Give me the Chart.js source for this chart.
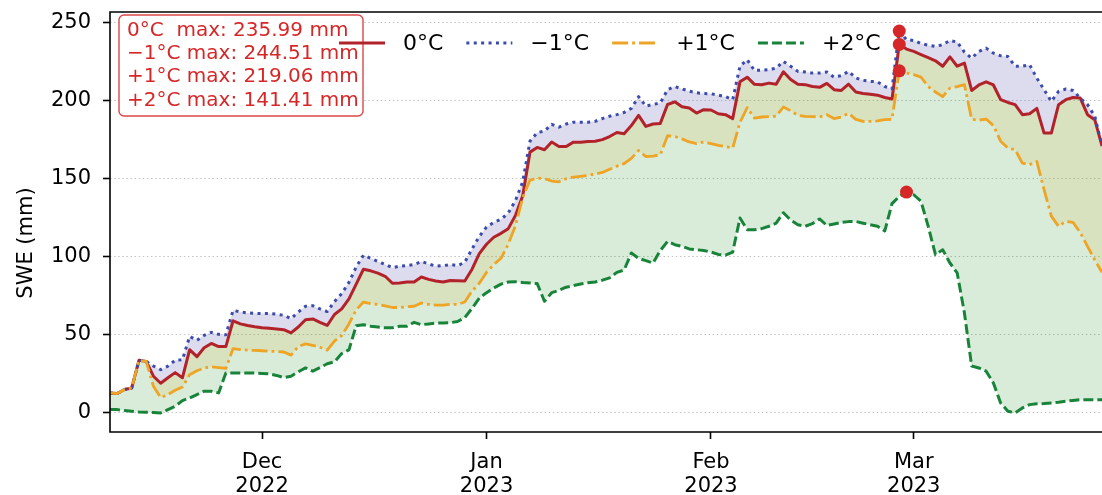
<!DOCTYPE html>
<html>
<head>
<meta charset="utf-8">
<title>SWE scenarios</title>
<script src="https://cdn.jsdelivr.net/npm/chart.js@4.4.1/dist/chart.umd.min.js"></script>
<style>
  html, body { margin: 0; padding: 0; background: #ffffff; overflow: hidden; }
  #wrap { position: relative; width: 1102px; height: 495px; }
  canvas { display: block; }
</style>
</head>
<body>
<div id="wrap"><canvas id="swe" width="1102" height="495"></canvas></div>
<script>
// Daily snow water equivalent (mm), one value per day starting at START_DATE.
const START_DATE = '2022-11-10';

const swe0 = [
  12.8, 12.4, 15.0, 16.0, 33.7, 33.0, 23.5, 19.0, 22.5, 25.8,
  22.5, 40.5, 36.0, 41.7, 44.5, 42.5, 42.5, 59.0, 57.0, 56.0,
  55.2, 54.6, 54.2, 53.8, 53.3, 51.2, 55.0, 59.7, 60.2, 58.0,
  56.0, 63.0, 66.6, 73.0, 82.5, 92.0, 91.0, 89.5, 87.5, 83.0,
  83.2, 83.8, 83.8, 87.0, 85.5, 84.5, 83.8, 84.8, 84.7, 84.5,
  92.0, 102.0, 108.0, 112.5, 115.0, 118.0, 126.5, 139.0, 167.0, 170.0,
  168.5, 173.5, 170.6, 170.6, 173.4, 173.4, 173.8, 174.0, 175.0, 177.0,
  179.6, 178.8, 184.0, 190.5, 183.5, 185.0, 185.4, 197.5, 199.2, 196.0,
  195.2, 192.0, 194.2, 194.0, 191.6, 191.0, 188.5, 212.0, 215.0, 210.4,
  210.2, 211.2, 210.5, 218.5, 213.5, 210.4, 210.2, 209.0, 208.5, 211.0,
  207.0, 206.5, 210.5, 205.5, 204.5, 204.0, 203.5, 202.0, 201.0, 235.99,
  233.0, 231.5, 229.5, 227.5, 225.5, 222.0, 228.0, 222.0, 224.0, 206.5,
  210.0, 212.0, 210.0, 200.6, 198.8, 197.4, 191.0, 191.6, 195.0, 179.2,
  179.2, 197.4, 200.6, 202.0, 201.6, 191.0, 187.8, 171.0
];

const sweMinus1 = [
  12.8, 12.4, 15.0, 16.0, 33.7, 33.0, 30.0, 27.7, 29.9, 33.7,
  34.0, 49.0, 46.5, 49.7, 51.6, 50.3, 50.0, 65.7, 64.6, 64.0,
  63.8, 63.6, 63.6, 63.2, 62.5, 60.4, 64.6, 68.3, 68.7, 66.6,
  64.9, 71.3, 76.4, 83.6, 93.5, 101.0, 99.0, 97.0, 95.0, 93.0,
  94.0, 94.3, 95.0, 97.0, 95.4, 94.0, 94.3, 95.0, 94.3, 96.5,
  105.0, 113.0, 119.0, 122.0, 124.0, 128.0, 136.0, 148.0, 174.0, 179.5,
  180.5, 184.8, 183.0, 185.0, 186.2, 186.2, 186.2, 186.7, 188.5, 190.0,
  191.0, 192.4, 195.0, 202.5, 196.5, 197.5, 198.5, 207.0, 209.0, 207.5,
  206.0, 205.0, 204.5, 204.4, 203.5, 202.5, 200.6, 222.0, 226.2, 219.3,
  219.5, 219.8, 220.8, 225.1, 222.0, 218.7, 218.3, 217.6, 217.6, 218.3,
  215.0, 216.0, 218.7, 214.5, 213.0, 212.3, 212.0, 209.0, 207.5, 244.51,
  239.0, 238.5, 236.5, 235.5, 234.7, 235.8, 238.5, 237.5, 231.0, 227.2,
  231.5, 233.6, 230.4, 228.7, 228.3, 222.0, 222.0, 223.0, 214.4, 207.0,
  199.5, 205.9, 207.4, 206.5, 201.6, 197.4, 190.0, 171.0
];

const swePlus1 = [
  12.8, 12.4, 15.0, 16.0, 33.7, 33.0, 17.0, 9.8, 11.7, 14.5,
  16.6, 24.5, 27.0, 28.8, 29.5, 29.0, 28.5, 41.2, 40.5, 40.2,
  40.0, 39.8, 39.5, 39.3, 39.0, 37.0, 42.5, 44.2, 43.3, 42.0,
  40.2, 46.0, 49.5, 57.0, 66.0, 71.0, 70.0, 69.5, 68.5, 67.5,
  67.5, 68.0, 68.3, 70.4, 69.5, 69.0, 69.0, 69.5, 69.5, 71.0,
  78.0, 83.0, 90.0, 95.0, 99.0, 108.0, 120.0, 138.0, 149.0, 150.4,
  150.0, 148.5, 148.0, 150.0, 151.0, 151.5, 152.0, 153.0, 154.0, 156.0,
  158.0, 159.6, 163.0, 168.0, 164.2, 164.5, 165.3, 177.5, 177.0, 175.5,
  173.5, 172.5, 173.5, 172.5, 171.3, 170.5, 169.6, 186.0, 195.5, 188.8,
  189.5, 189.8, 190.0, 195.9, 193.5, 190.5, 189.9, 189.8, 189.5, 191.0,
  188.5, 189.5, 191.8, 188.0, 186.7, 186.7, 187.0, 187.8, 188.0, 219.06,
  217.7, 216.6, 215.0, 209.0, 205.5, 202.5, 208.0, 209.0, 210.2, 188.0,
  187.5, 188.2, 184.0, 174.0, 169.6, 168.6, 160.0, 159.0, 161.0, 143.0,
  126.0, 119.5, 122.7, 122.0, 115.5, 106.7, 98.0, 90.0
];

const swePlus2 = [
  2.1, 2.1, 1.5, 1.0, 0.6, 0.4, 0.2, 0.0, 2.1, 4.3,
  7.9, 9.6, 11.7, 13.9, 13.9, 12.8, 25.6, 25.6, 25.6, 25.5,
  25.5, 25.3, 25.0, 24.0, 22.6, 23.5, 26.3, 28.8, 26.7, 29.0,
  31.5, 32.7, 38.0, 40.4, 55.8, 56.5, 55.5, 55.0, 54.5, 54.5,
  55.5, 55.5, 58.0, 56.5, 57.0, 57.5, 57.6, 57.8, 58.5, 61.0,
  67.0, 73.5, 77.0, 80.0, 82.5, 83.8, 84.0, 83.5, 83.2, 82.8,
  71.5, 77.0, 78.5, 80.5, 81.5, 82.5, 83.3, 83.8, 85.0, 86.5,
  90.0, 91.5, 102.4, 99.0, 97.5, 96.0, 104.0, 109.8, 107.7, 106.7,
  105.0, 104.5, 104.0, 103.0, 101.5, 101.0, 103.0, 124.8, 117.3, 117.3,
  118.0, 119.5, 121.5, 128.2, 123.5, 120.5, 119.5, 121.2, 124.2, 120.0,
  121.0, 122.0, 122.5, 122.6, 121.5, 120.5, 119.5, 116.5, 134.0, 138.6,
  141.41, 139.7, 135.5, 119.5, 101.3, 104.5, 96.0, 89.6, 64.0, 30.0,
  28.8, 26.7, 19.2, 6.4, 1.1, 0.0, 3.2, 5.3, 5.8, 6.0,
  6.4, 6.8, 7.5, 8.0, 8.5, 8.5, 8.5, 8.5
];

const seriesLabels = ['0°C', '−1°C', '+1°C', '+2°C'];
const tickDates = ['2022-12-01', '2023-01-01', '2023-02-01', '2023-03-01'];
const tickLabels = [['Dec', '2022'], ['Jan', '2023'], ['Feb', '2023'], ['Mar', '2023']];
const yTickValues = [0, 50, 100, 150, 200, 250];

// Styling
const FONT = 'DejaVu Sans';
const LINE_COLORS = ['#b2222a', '#3b4bab', '#eea425', '#17843a'];
const MAX_RED = '#d62728';
const FILL_COLD = 'rgba(112,104,186,0.24)';   // between −1°C and 0°C
const FILL_MID = 'rgba(126,160,40,0.30)';     // between 0°C and +1°C
const FILL_WARM = 'rgba(0,128,0,0.15)';       // between +1°C and +2°C

// Date labels for the category axis
const dates = (() => {
  const [y, m, d] = START_DATE.split('-').map(Number);
  return swe0.map((_, i) => new Date(Date.UTC(y, m - 1, d + i)).toISOString().slice(0, 10));
})();

const allSeries = [swe0, sweMinus1, swePlus1, swePlus2];
const maxPoints = allSeries.map(s => {
  const peak = Math.max(...s);
  const i = s.indexOf(peak);
  return { x: dates[i], y: peak };
});

// Frame, legend, max summary box and y label
const decor = {
  id: 'decor',
  afterDatasetsDraw(chart) {
    const { ctx, chartArea: a } = chart;
    ctx.save();
    // axes frame (top, left, bottom)
    ctx.strokeStyle = '#000';
    ctx.lineWidth = 1.6;
    ctx.setLineDash([]);
    ctx.beginPath();
    ctx.moveTo(a.right + 2, a.top);
    ctx.lineTo(a.left, a.top);
    ctx.lineTo(a.left, a.bottom);
    ctx.lineTo(a.right + 2, a.bottom);
    ctx.stroke();

    // summary box of the maxima
    const bx = 119, by = 15, bw = 244, bh = 101, r = 5;
    ctx.beginPath();
    ctx.roundRect(bx, by, bw, bh, r);
    ctx.fillStyle = 'rgba(255,255,255,0.9)';
    ctx.fill();
    ctx.strokeStyle = 'rgba(214,39,40,0.85)';
    ctx.lineWidth = 1.4;
    ctx.stroke();
    ctx.fillStyle = MAX_RED;
    ctx.font = `20px "${FONT}"`;
    ctx.textBaseline = 'middle';
    ctx.textAlign = 'left';
    seriesLabels.forEach((lab, k) => {
      const txt = `${lab.padEnd(4, ' ')} max: ${maxPoints[k].y.toFixed(2)} mm`;
      ctx.fillText(txt, 127, 31 + k * 23.1);
    });

    // legend row
    const ds = chart.data.datasets.slice(0, 4);
    let x = 339;
    const ly = 43, handle = 46, textGap = 18, colGap = 23;
    ctx.font = `22px "${FONT}"`;
    ds.forEach(d => {
      ctx.save();
      ctx.strokeStyle = d.borderColor;
      ctx.lineWidth = d.borderWidth;
      ctx.lineCap = 'butt';
      ctx.setLineDash(d.borderDash || []);
      ctx.beginPath();
      ctx.moveTo(x, ly);
      ctx.lineTo(x + handle, ly);
      ctx.stroke();
      ctx.restore();
      x += handle + textGap;
      ctx.fillStyle = '#000';
      ctx.fillText(d.label, x, ly + 1);
      x += ctx.measureText(d.label).width + colGap;
    });
    ctx.restore();
  },
  afterDraw(chart) {
    const { ctx } = chart;
    ctx.save();
    ctx.translate(27, 243);
    ctx.rotate(-Math.PI / 2);
    ctx.font = `21px "${FONT}"`;
    ctx.fillStyle = '#000';
    ctx.textAlign = 'center';
    ctx.textBaseline = 'middle';
    ctx.fillText('SWE (mm)', 0, 0);
    ctx.restore();
  }
};

const lineBase = { pointRadius: 0, pointHoverRadius: 0, tension: 0, borderCapStyle: 'butt', borderJoinStyle: 'round' };

new Chart(document.getElementById('swe'), {
  type: 'line',
  data: {
    labels: dates,
    datasets: [
      Object.assign({}, lineBase, {
        label: seriesLabels[0], data: swe0, borderColor: LINE_COLORS[0], borderWidth: 3, borderDash: [],
        fill: { target: 2, above: FILL_MID, below: FILL_MID }, order: 4
      }),
      Object.assign({}, lineBase, {
        label: seriesLabels[1], data: sweMinus1, borderColor: LINE_COLORS[1], borderWidth: 3, borderDash: [3, 4.4],
        fill: { target: 0, above: FILL_COLD, below: FILL_COLD }, order: 3
      }),
      Object.assign({}, lineBase, {
        label: seriesLabels[2], data: swePlus1, borderColor: LINE_COLORS[2], borderWidth: 2.8, borderDash: [16, 4, 2.8, 4],
        fill: { target: 3, above: FILL_WARM, below: FILL_WARM }, order: 2
      }),
      Object.assign({}, lineBase, {
        label: seriesLabels[3], data: swePlus2, borderColor: LINE_COLORS[3], borderWidth: 3, borderDash: [10, 4],
        fill: false, order: 1
      }),
      {
        label: 'max', data: maxPoints, showLine: false, pointRadius: 6.5, pointHoverRadius: 6.5,
        pointBackgroundColor: MAX_RED, pointBorderWidth: 0, borderColor: MAX_RED, order: 0
      }
    ]
  },
  options: {
    responsive: false,
    animation: false,
    devicePixelRatio: 1,
    events: [],
    layout: { padding: { top: 12, right: 0, bottom: 0, left: 0 }, autoPadding: false },
    plugins: {
      legend: { display: false },
      tooltip: { enabled: false },
      filler: { drawTime: 'beforeDatasetsDraw', propagate: false }
    },
    scales: {
      x: {
        type: 'category',
        offset: false,
        grid: { display: true, drawOnChartArea: false, drawTicks: true, tickLength: 7, tickColor: '#000', tickWidth: 1.6 },
        border: { display: false },
        ticks: {
          autoSkip: false, maxRotation: 0, minRotation: 0, color: '#000', padding: 11,
          font: { family: FONT, size: 21, lineHeight: 1.17 },
          callback(value) {
            const k = tickDates.indexOf(dates[value]);
            return k >= 0 ? tickLabels[k] : '';
          }
        },
        afterBuildTicks(scale) {
          scale.ticks = tickDates.map(d => ({ value: dates.indexOf(d) }));
        },
        afterFit(scale) {
          scale.height = 63;
          scale.paddingLeft = 0; scale.paddingRight = 0;
        }
      },
      y: {
        min: -12.23,
        max: 256.74,
        grid: { color: 'rgba(175,175,175,0.75)', lineWidth: 1, tickLength: 7, tickColor: '#000', tickWidth: 1.6 },
        border: { display: false, dash: [1.5, 2.6] },
        ticks: { color: '#000', padding: 12, font: { family: FONT, size: 21 } },
        afterBuildTicks(scale) {
          scale.ticks = yTickValues.map(v => ({ value: v }));
        },
        afterFit(scale) {
          scale.width = 110;
          scale.paddingTop = 0; scale.paddingBottom = 0;
        }
      }
    }
  },
  plugins: [decor]
});
</script>
</body>
</html>
